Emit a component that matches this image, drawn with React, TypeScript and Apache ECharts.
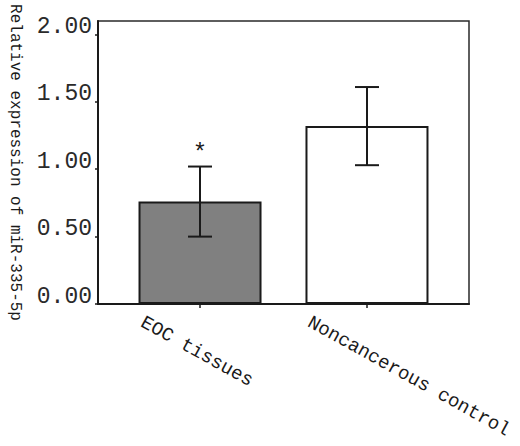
import React, { useEffect, useRef } from 'react';
import * as echarts from 'echarts';

const categories = ['EOC tissues', 'Noncancerous control'];
const means = [0.76, 1.32];
const sds = [0.26, 0.29];
const significance = ['*', ''];
const yTicks = [0, 0.5, 1.0, 1.5, 2.0];
const barFills = ['#808080', '#ffffff'];
const yAxisTitle = 'Relative expression of miR-335-5p';

export default function App() {
  const ref = useRef<HTMLDivElement>(null);
  useEffect(() => {
    document.body.style.margin = '0';
    const chart = echarts.init(ref.current!, null, { renderer: 'svg' });
    const positions = categories.map((_, i) => i);
    const LABEL_SHIFT = 0.32;
    const mono = 'Liberation Mono';
    const ink = '#1a1a1a';
    chart.setOption({
      animation: false,
      backgroundColor: '#ffffff',
      grid: {
        left: 98, right: 51, top: 21, bottom: 142,
        containLabel: false, outerBoundsMode: 'none',
        show: true, borderColor: '#2a2a2a', borderWidth: 1.5, backgroundColor: 'transparent',
      },
      xAxis: {
        type: 'value', min: -0.611, max: 1.611,
        splitLine: { show: false },
        axisLine: { onZero: false, lineStyle: { color: ink, width: 2 } },
        axisTick: { customValues: positions, length: 4, lineStyle: { color: ink, width: 1.5 } },
        axisLabel: {
          customValues: positions.map((p) => p - LABEL_SHIFT),
          formatter: (v: number) => categories[Math.round(v + LABEL_SHIFT)] ?? '',
          rotate: -29, align: 'left', verticalAlign: 'top', margin: 9,
          fontFamily: mono, fontSize: 19, color: ink,
        },
      },
      yAxis: {
        type: 'value', min: 0, max: 2.1,
        splitLine: { show: false },
        axisLine: { onZero: false, lineStyle: { color: ink, width: 2 } },
        axisTick: { customValues: yTicks, length: 3, lineStyle: { color: ink, width: 1.5 } },
        axisLabel: {
          customValues: yTicks,
          formatter: (v: number) => v.toFixed(2),
          verticalAlign: 'bottom', lineHeight: 15, margin: 6,
          fontFamily: mono, fontSize: 23, color: '#2a2a2a',
        },
        name: yAxisTitle, nameLocation: 'middle', nameRotate: -90, nameGap: 75,
        nameTextStyle: { fontFamily: mono, fontSize: 16, color: ink },
      },
      series: [
        {
          type: 'bar',
          barWidth: 123,
          data: positions.map((p, i) => ({ value: [p, means[i]], itemStyle: { color: barFills[i] } })),
          itemStyle: { borderColor: ink, borderWidth: 2 },
        },
        {
          type: 'custom',
          z: 5,
          data: positions.map((p, i) => [p, means[i] - sds[i], means[i] + sds[i], i]),
          renderItem: (params: any, api: any) => {
            const x = api.value(0);
            const lo = api.coord([x, api.value(1)]);
            const hi = api.coord([x, api.value(2)]);
            const hw = 12;
            const st = { stroke: ink, lineWidth: 2 };
            const mark = significance[api.value(3)] || '';
            return {
              type: 'group',
              children: [
                { type: 'line', shape: { x1: hi[0], y1: hi[1], x2: lo[0], y2: lo[1] }, style: st },
                { type: 'line', shape: { x1: hi[0] - hw, y1: hi[1], x2: hi[0] + hw, y2: hi[1] }, style: st },
                { type: 'line', shape: { x1: lo[0] - hw, y1: lo[1], x2: lo[0] + hw, y2: lo[1] }, style: st },
                {
                  type: 'text',
                  style: {
                    text: mark, x: hi[0], y: hi[1] - 16, align: 'center', verticalAlign: 'middle',
                    fontSize: 24, fontFamily: 'Liberation Sans', fill: ink,
                  },
                },
              ],
            };
          },
        },
      ],
    });
    return () => chart.dispose();
  }, []);
  return <div ref={ref} style={{ width: 520, height: 446, position: 'absolute', left: 0, top: 0 }} />;
}
